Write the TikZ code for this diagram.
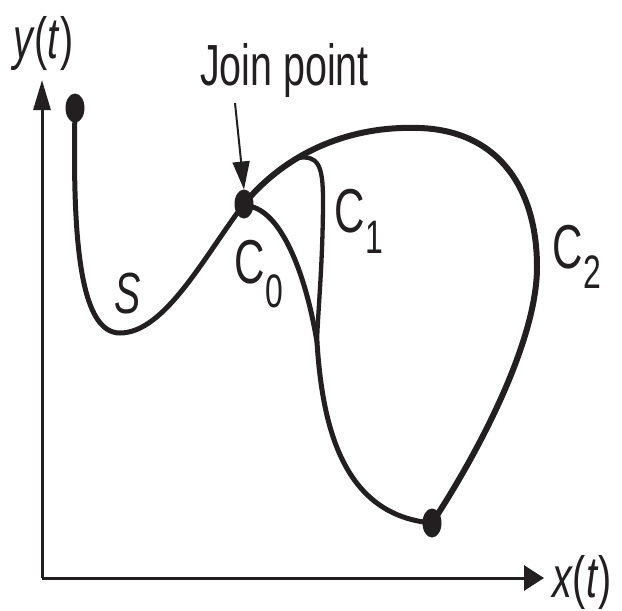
\documentclass[tikz,border=0pt]{standalone}
\usepackage{fontspec}
\setmainfont{Liberation Sans}[FakeStretch=0.68]
\usetikzlibrary{arrows.meta,shapes.geometric}
\definecolor{ink}{HTML}{231F20}
\newcommand{\sublab}[3]{{\fontsize{62}{62}\selectfont #1}\kern1pt\raisebox{-#3}{\fontsize{47}{47}\selectfont #2}}
\begin{document}
\begin{tikzpicture}[x=1pt,y=-1pt,
  every node/.style={inner sep=0pt,outer sep=0pt,text=ink,font=\fontsize{58}{58}\selectfont},
  dot/.style={ellipse,fill=ink,minimum width=19pt,minimum height=29pt},
  curve/.style={draw=ink,line width=5pt,line cap=round},
  thick curve/.style={draw=ink,line width=6pt,line cap=round},
  thin curve/.style={draw=ink,line width=4.3pt},
  axis/.style={draw=ink,line width=3pt},
  pointer/.style={draw=ink,line width=2pt,-{Triangle[length=28pt,width=17pt]}}]
\useasboundingbox (0,0) rectangle (622,611);
% axes
\coordinate (O) at (42,578);
\coordinate (ytip) at (42,80);
\coordinate (xtip) at (544,578);
\draw[axis,-{Triangle[length=30pt,width=17pt]}] (O) -- (ytip);
\draw[axis,-{Triangle[length=20pt,width=25pt]}] (O) -- (xtip);
\node[anchor=base west] (ylab) at (13,58) {\textit{y}(\textit{t})};
\node[anchor=base west] (xlab) at (552,597) {\textit{x}(\textit{t})};
% key points
\coordinate (smin) at (120,333);
\coordinate (top) at (420,128);
\coordinate (right) at (537,267);
\coordinate (hook) at (298,158);
\coordinate (c1mid) at (323,200);
\coordinate (cusp) at (317,342);
% curve S
\draw[curve] (75,110) .. controls (72,250) and (82,333) .. (smin)
  .. controls (165,333) and (205,255) .. (244,204);
% C2
\draw[thick curve] (244,204) .. controls (280,160) and (340,125) .. (top)
  .. controls (500,131) and (537,190) .. (right)
  .. controls (537,340) and (480,450) .. (432,523);
% C0
\draw[curve] (248,206) .. controls (280,210) and (305,270) .. (cusp);
% C1
\draw[thin curve] (hook) .. controls (318,155) and (323,165) .. (c1mid)
  .. controls (323,260) and (318,310) .. (cusp);
% lower continuation
\draw[curve] (cusp) .. controls (322,420) and (340,515) .. (432,523);
% dots
\node[dot] (start) at (75,108) {};
\node[dot] (join) at (244,204) {};
\node[dot] (end) at (432,523) {};
% labels
\node[anchor=base west] (joinlab) at (200,85) {Join point};
\coordinate (arrstart) at (235,103);
\draw[pointer] (arrstart) -- (join.north);
\node[anchor=base west] (slab) at (114,313) {\textit{S}};
\node[anchor=base west] (c0lab) at (234,283) {\sublab{C}{0}{24pt}};
\node[anchor=base west] (c1lab) at (334,232) {\sublab{C}{1}{21pt}};
\node[anchor=base west] (c2lab) at (552,268) {\sublab{C}{2}{20pt}};
\end{tikzpicture}
\end{document}
